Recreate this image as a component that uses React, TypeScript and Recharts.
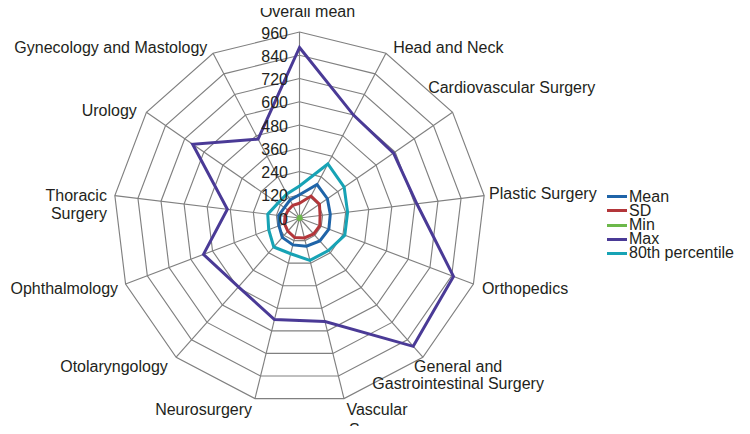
import React from 'react';
import { RadarChart, Radar, PolarGrid, PolarAngleAxis, PolarRadiusAxis, Legend } from 'recharts';

const categories = [
  'Overall mean',
  'Head and Neck',
  'Cardiovascular Surgery',
  'Plastic Surgery',
  'Orthopedics',
  'General and Gastrointestinal Surgery',
  'Vascular Surgery',
  'Neurosurgery',
  'Otolaryngology',
  'Ophthalmology',
  'Thoracic Surgery',
  'Urology',
  'Gynecology and Mastology',
];

const categoryLabelLines = [
  ['Overall mean'],
  ['Head and Neck'],
  ['Cardiovascular Surgery'],
  ['Plastic Surgery'],
  ['Orthopedics'],
  ['General and', 'Gastrointestinal Surgery'],
  ['Vascular', 'Surgery'],
  ['Neurosurgery'],
  ['Otolaryngology'],
  ['Ophthalmology'],
  ['Thoracic', 'Surgery'],
  ['Urology'],
  ['Gynecology and Mastology'],
];

const meanValues = [120, 195, 175, 160, 162, 158, 150, 143, 134, 113, 108, 95, 105];
const sdValues = [76, 128, 125, 107, 112, 110, 106, 104, 91, 83, 75, 71, 74];
const minValues = [8, 10, 6, 8, 10, 8, 6, 8, 6, 8, 6, 6, 8];
const maxValues = [880, 600, 590, 610, 850, 885, 550, 540, 475, 530, 375, 670, 460];
const p80Values = [165, 315, 280, 250, 250, 225, 225, 190, 200, 170, 165, 135, 140];

const radiusTicks = [0, 120, 240, 360, 480, 600, 720, 840, 960];

const seriesNames = ['Mean', 'SD', 'Min', 'Max', '80th percentile'];

const data = categories.map((category, i) => ({
  category,
  mean: meanValues[i],
  sd: sdValues[i],
  min: minValues[i],
  max: maxValues[i],
  p80: p80Values[i],
}));

const FONT = '"Liberation Sans", Arial, Helvetica, sans-serif';
const TEXT_COLOR = '#231f20';

const COLORS = {
  mean: '#1f64a8',
  sd: '#b3363a',
  min: '#6cb84a',
  max: '#4a3a96',
  p80: '#17a3b5',
};

// label placement tweaks relative to the axis tick point (style only)
const LABEL_LAYOUT: { anchor: 'start' | 'middle' | 'end'; dx: number; dy: number; lh?: number }[] = [
  { anchor: 'middle', dx: 8, dy: -7 },
  { anchor: 'start', dx: 3.5, dy: 6.5 },
  { anchor: 'start', dx: -31, dy: -15 },
  { anchor: 'start', dx: -3, dy: 4.5 },
  { anchor: 'start', dx: 1, dy: 7 },
  { anchor: 'middle', dx: 30, dy: 9, lh: 16.5 },
  { anchor: 'middle', dx: 31, dy: 8.6, lh: 20 },
  { anchor: 'end', dx: -1, dy: 8.6 },
  { anchor: 'end', dx: -3, dy: 9 },
  { anchor: 'end', dx: 0, dy: 7 },
  { anchor: 'end', dx: 0, dy: 6.4, lh: 18 },
  { anchor: 'end', dx: -3, dy: 8 },
  { anchor: 'end', dx: -2, dy: 7 },
];

const AngleTick = (props: any) => {
  const { x, y, payload } = props;
  const idx = categories.indexOf(payload.value);
  const layout = LABEL_LAYOUT[idx] || { anchor: 'middle', dx: 0, dy: 0 };
  const lines = categoryLabelLines[idx] || [String(payload.value)];
  const lh = layout.lh || 17;
  const tx = x + layout.dx;
  return (
    <text
      x={tx}
      y={y + layout.dy}
      textAnchor={layout.anchor}
      fontSize={16}
      fontFamily={FONT}
      fill={TEXT_COLOR}
    >
      {lines.map((line, k) => (
        <tspan key={k} x={tx} dy={k === 0 ? 0 : lh}>
          {line}
        </tspan>
      ))}
    </text>
  );
};

const RadiusTick = (props: any) => {
  const { x, y, payload } = props;
  return (
    <text
      x={x - 11.5}
      y={y + 6.5}
      textAnchor="end"
      fontSize={16}
      fontFamily={FONT}
      fill={TEXT_COLOR}
    >
      {payload.value}
    </text>
  );
};

const LegendContent = (props: any) => {
  const items = [...(props.payload || [])].sort(
    (a: any, b: any) => seriesNames.indexOf(a.value) - seriesNames.indexOf(b.value)
  );
  return (
    <div style={{ fontFamily: FONT, fontSize: 16, color: TEXT_COLOR }}>
      {items.map((item: any) => (
        <div
          key={item.value}
          style={{
            display: 'flex',
            alignItems: 'center',
            height: 14.2,
            lineHeight: '14.2px',
            whiteSpace: 'nowrap',
          }}
        >
          <span
            style={{
              display: 'inline-block',
              width: 20,
              height: 3,
              background: item.color,
              marginRight: 2,
            }}
          />
          <span>{item.value}</span>
        </div>
      ))}
    </div>
  );
};

export default function App() {
  return (
    <div style={{ width: 750, height: 434, position: 'relative', background: '#fff', margin: -8, overflow: 'hidden' }}>
      <RadarChart
        width={750}
        height={434}
        data={data}
        cx={299.5}
        cy={218}
        outerRadius={186}
        startAngle={90}
        endAngle={-270}
        margin={{ top: 0, right: 0, bottom: 0, left: 0 }}
      >
        <PolarGrid gridType="polygon" stroke="#808080" strokeWidth={1.15} />
        <PolarAngleAxis
          dataKey="category"
          tick={AngleTick}
          tickLine={false}
          axisLine={false}
        />
        <PolarRadiusAxis
          angle={90}
          domain={[0, 960]}
          ticks={radiusTicks as any}
          tickCount={9}
          axisLine={false}
          tickLine={false}
          tick={RadiusTick}
        />
        <Radar name={seriesNames[0]} dataKey="mean" stroke={COLORS.mean} strokeWidth={3} fill="none" fillOpacity={0} dot={false} isAnimationActive={false} />
        <Radar name={seriesNames[1]} dataKey="sd" stroke={COLORS.sd} strokeWidth={3} fill="none" fillOpacity={0} dot={false} isAnimationActive={false} />
        <Radar name={seriesNames[2]} dataKey="min" stroke={COLORS.min} strokeWidth={3} fill="none" fillOpacity={0} dot={false} isAnimationActive={false} />
        <Radar name={seriesNames[3]} dataKey="max" stroke={COLORS.max} strokeWidth={3} fill="none" fillOpacity={0} dot={false} isAnimationActive={false} />
        <Radar name={seriesNames[4]} dataKey="p80" stroke={COLORS.p80} strokeWidth={3} fill="none" fillOpacity={0} dot={false} isAnimationActive={false} />
        <Legend
          layout="vertical"
          align="right"
          verticalAlign="top"
          content={LegendContent}
          wrapperStyle={{ left: 607, top: 189.6, right: 'auto', bottom: 'auto', width: 140 }}
        />
      </RadarChart>
    </div>
  );
}
